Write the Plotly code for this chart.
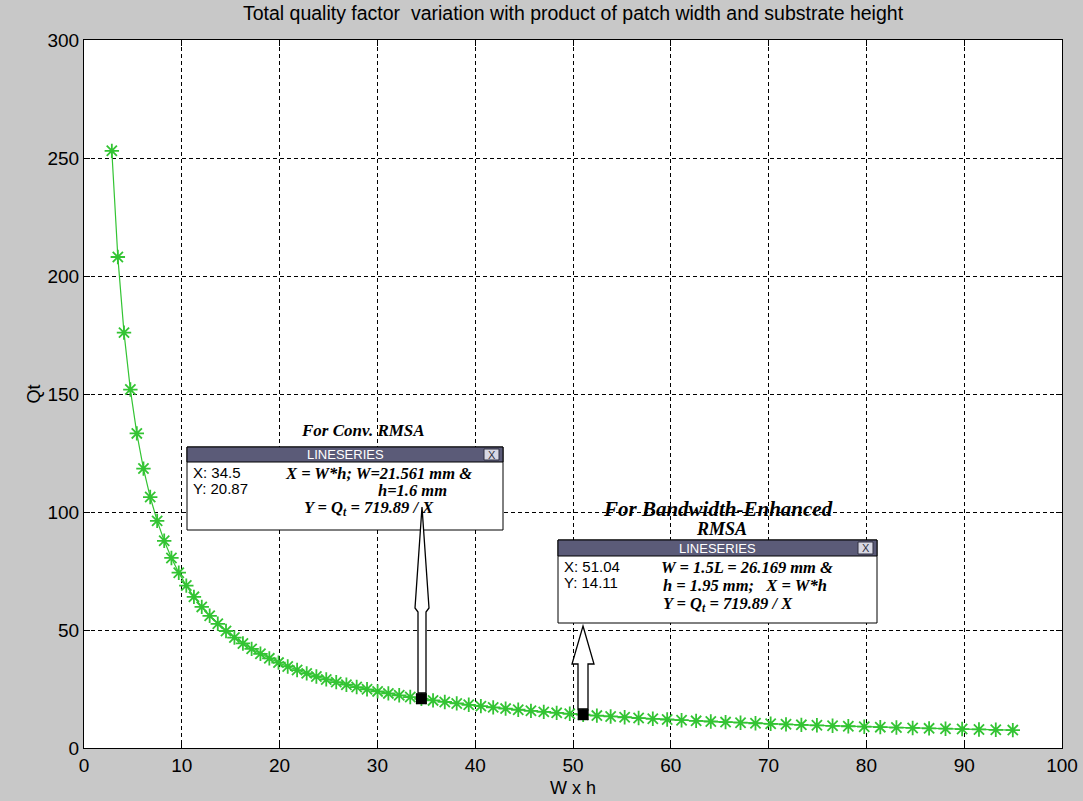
import plotly.graph_objects as go

# ---------------- data ----------------
wh = [2.845, 3.46, 4.09, 4.74, 5.40, 6.08, 6.77, 7.48, 8.20, 8.94, 9.69, 10.46,
      11.24, 12.04, 12.85, 13.68, 14.52, 15.38, 16.25, 17.14, 18.04, 18.95, 19.89,
      20.83, 21.79, 22.77, 23.76, 24.77, 25.79, 26.83, 27.88, 28.94, 30.02, 31.12,
      32.23, 33.36, 34.50, 35.69, 36.89, 38.11, 39.34, 40.58, 41.84, 43.11, 44.40,
      45.70, 47.01, 48.33, 49.67, 51.04, 52.44, 53.85, 55.28, 56.71, 58.16, 59.63,
      61.10, 62.59, 64.09, 65.60, 67.13, 68.66, 70.21, 71.78, 73.35, 74.94, 76.54,
      78.15, 79.78, 81.42, 83.07, 84.73, 86.41, 88.09, 89.79, 91.51, 93.23, 94.97]
qt = [253.04, 208.06, 176.01, 151.88, 133.31, 118.40, 106.34, 96.24, 87.79, 80.52,
      74.29, 68.82, 64.05, 59.79, 56.02, 52.62, 49.58, 46.81, 44.30, 42.00, 39.91,
      37.99, 36.19, 34.56, 33.04, 31.62, 30.30, 29.06, 27.91, 26.83, 25.82, 24.88,
      23.98, 23.13, 22.34, 21.58, 20.87, 20.17, 19.51, 18.89, 18.30, 17.74, 17.21,
      16.70, 16.21, 15.75, 15.31, 14.90, 14.49, 14.11, 13.73, 13.37, 13.02, 12.69,
      12.38, 12.07, 11.78, 11.50, 11.23, 10.97, 10.72, 10.48, 10.25, 10.03, 9.81,
      9.61, 9.41, 9.21, 9.02, 8.84, 8.67, 8.50, 8.33, 8.17, 8.02, 7.87, 7.72, 7.58]
tip_x = [34.5, 51.04]
tip_y = [20.87, 14.11]
x_ticks = [0, 10, 20, 30, 40, 50, 60, 70, 80, 90, 100]
y_ticks = [0, 50, 100, 150, 200, 250, 300]

# ---------------- geometry helpers ----------------
W, H = 1083, 801
L, R, T, B = 84, 21, 40, 53
XMAX, YMAX = 100, 300
XS = (W - L - R) / XMAX
YS = (H - T - B) / YMAX


def dx(px):
    return (px - L) / XS


def dy(py):
    return (H - B - py) / YS


fig = go.Figure()
fig.add_trace(go.Scatter(
    x=wh, y=qt, mode="lines+markers",
    line=dict(color="#33c433", width=1.2),
    marker=dict(symbol="asterisk-open", size=12,
                line=dict(color="#22e022", width=1.8)),
    showlegend=False, hoverinfo="skip"))

shapes = []
annos = []
serif = dict(family="Liberation Serif", color="black")
sans = dict(family="Liberation Sans", color="black")


def tip_box(x0, x1, y0, y1, hb, lines_left, lines_right):
    shapes.append(dict(type="rect", xref="x", yref="y", x0=dx(x0), x1=dx(x1),
                       y0=dy(y1), y1=dy(y0), fillcolor="white",
                       line=dict(color="black", width=1), layer="above"))
    shapes.append(dict(type="rect", xref="x", yref="y", x0=dx(x0), x1=dx(x1),
                       y0=dy(hb), y1=dy(y0), fillcolor="#5b5b78",
                       line=dict(color="black", width=1), layer="above"))
    shapes.append(dict(type="rect", xref="x", yref="y", x0=dx(x1 - 19), x1=dx(x1 - 4),
                       y0=dy(hb - 2), y1=dy(y0 + 2), fillcolor="#d8d8e4",
                       line=dict(color="#303040", width=1), layer="above"))
    annos.append(dict(x=dx(x1 - 11.5), y=dy((y0 + hb) / 2), text="X", showarrow=False,
                      xref="x", yref="y", borderpad=0,
                      font=dict(size=11, family="Liberation Sans", color="#303040")))
    annos.append(dict(x=dx((x0 + x1) / 2), y=dy((y0 + hb) / 2), text="LINESERIES",
                      showarrow=False, xref="x", yref="y", borderpad=0,
                      font=dict(size=13, family="Liberation Sans", color="white")))
    for (px, py, txt) in lines_left:
        annos.append(dict(x=dx(px), y=dy(py), text=txt, showarrow=False, xref="x",
                          yref="y", xanchor="left", borderpad=0,
                          font=dict(size=15, **sans)))
    for (px, py, txt, anc) in lines_right:
        annos.append(dict(x=dx(px), y=dy(py), text="<b><i>" + txt + "</i></b>",
                          showarrow=False, xref="x", yref="y", xanchor=anc,
                          borderpad=0, font=dict(size=16.5, **serif)))


QT = "Q<sub>t</sub>"
tip_box(187, 503, 447, 530, 462,
        [(192, 472, "X: 34.5"), (192, 488, "Y: 20.87")],
        [(284, 473, "X = W*h; W=21.561 mm &", "left"),
         (412, 490, "h=1.6 mm", "center"),
         (303, 508, "Y = " + QT + " = 719.89 / X", "left")])
tip_box(558, 877, 540, 623, 556,
        [(563, 566, "X: 51.04"), (563, 582, "Y: 14.11")],
        [(660, 567, "W = 1.5L = 26.169 mm &", "left"),
         (662, 585, "h = 1.95 mm;   X = W*h", "left"),
         (662, 604, "Y = " + QT + " = 719.89 / X", "left")])

annos.append(dict(x=dx(363), y=dy(430), text="<b><i>For Conv. RMSA</i></b>", borderpad=0,
                  showarrow=False, xref="x", yref="y", font=dict(size=17, **serif)))
annos.append(dict(x=dx(718), y=dy(509), text="<b><i>For Bandwidth-Enhanced</i></b>",
                  borderpad=0, showarrow=False, xref="x", yref="y",
                  font=dict(size=21, **serif)))
annos.append(dict(x=dx(721), y=dy(529), text="<b><i>RMSA</i></b>", borderpad=0,
                  showarrow=False, xref="x", yref="y", font=dict(size=18, **serif)))


def poly(pts):
    return "M " + " L ".join(f"{dx(a):.4f},{dy(b):.4f}" for a, b in pts) + " Z"


arrow1 = [(422, 507), (429, 608), (426, 612), (426, 693), (418, 693),
          (418, 612), (415, 608)]
arrow2 = [(583, 626), (594, 664), (588, 664), (588, 709), (578, 709),
          (578, 664), (572, 664)]
for a in (arrow1, arrow2):
    shapes.append(dict(type="path", xref="x", yref="y", path=poly(a),
                       fillcolor="white", line=dict(color="black", width=1.3),
                       layer="above"))

# datatip markers drawn on top of the arrows
fig.add_trace(go.Scatter(
    x=tip_x, y=tip_y, mode="markers",
    marker=dict(symbol="square", size=11, color="black"),
    showlegend=False, hoverinfo="skip"))

axis_common = dict(showline=True, linecolor="black", linewidth=1, mirror="ticks",
                   ticks="inside", ticklen=6, tickcolor="black", automargin=False,
                   showgrid=True, gridcolor="black", gridwidth=1, griddash="4px,3px",
                   zeroline=False, tickfont=dict(size=19, family="Liberation Sans",
                                                 color="black"))
fig.update_xaxes(range=[0, XMAX], tickvals=x_ticks,
                 title=dict(text="W x h", standoff=6, font=dict(size=18, **sans)),
                 **axis_common)
fig.update_yaxes(range=[0, YMAX], tickvals=y_ticks,
                 title=dict(text="Qt", standoff=2, font=dict(size=18, **sans)),
                 **axis_common)

fig.update_layout(
    width=W, height=H,
    margin=dict(l=L, r=R, t=T, b=B, pad=0, autoexpand=False),
    paper_bgcolor="#c8c8c8", plot_bgcolor="white",
    title=dict(text="Total quality factor  variation with product of patch width and substrate height",
               x=(L + (W - L - R) / 2) / W, xanchor="center", y=1 - 13 / H, yanchor="middle",
               font=dict(size=19.5, family="Liberation Sans", color="black")),
    shapes=shapes, annotations=annos,
)
fig.write_html("out.html", config={"displayModeBar": False},
               post_script="document.body.style.margin='0px';")
